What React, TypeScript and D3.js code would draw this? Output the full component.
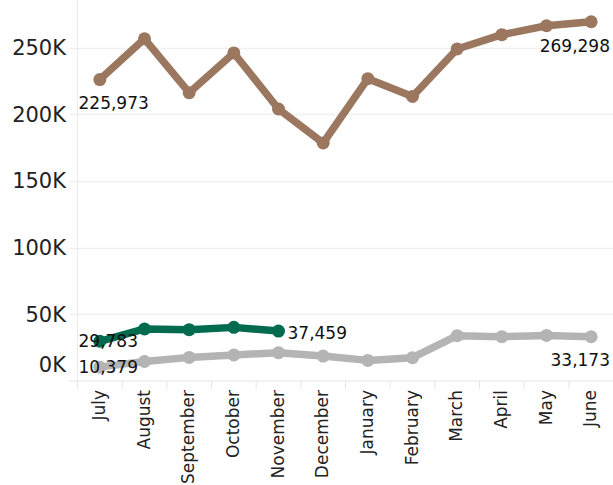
import React, { useEffect, useRef } from 'react';
import * as d3 from 'd3';

const months = ['July', 'August', 'September', 'October', 'November', 'December', 'January', 'February', 'March', 'April', 'May', 'June'];
const brownValues = [225973, 256500, 216100, 245900, 203900, 178400, 226600, 213300, 248900, 259600, 266300, 269298];
const greenValues = [29783, 39000, 38450, 40200, 37459];
const grayValues = [10379, 14700, 17700, 19500, 21200, 18700, 15450, 17500, 34000, 33200, 34200, 33173];
const yTicks = [0, 50000, 100000, 150000, 200000, 250000];

const W = 613;
const H = 485;

const App: React.FC = () => {
  const svgRef = useRef<SVGSVGElement>(null);

  useEffect(() => {
    if (!svgRef.current) return;
    const svg = d3.select(svgRef.current);
    svg.selectAll('*').remove();

    const left = 77.5;
    const right = 613.5;
    const top = 0;
    const bottom = 381;
    const font = 'DejaVu Sans, sans-serif';
    const fmt = d3.format(',');

    const x = d3.scaleBand<string>().domain(months).range([left, right]).padding(0);
    const y = d3.scaleLinear().domain([0, 50000]).range([bottom, bottom - 66.7]);
    const cx = (m: string) => x(m)! + x.bandwidth() / 2;

    // grid lines
    svg.append('g')
      .selectAll('line')
      .data(yTicks.filter(t => t > 0))
      .enter()
      .append('line')
      .attr('x1', 70)
      .attr('x2', W)
      .attr('y1', d => Math.round(y(d)) + 0.5)
      .attr('y2', d => Math.round(y(d)) + 0.5)
      .attr('stroke', '#f0f0f0')
      .attr('stroke-width', 1.5);

    // axis lines
    svg.append('line')
      .attr('x1', left).attr('x2', left)
      .attr('y1', top).attr('y2', bottom)
      .attr('stroke', '#ececec').attr('stroke-width', 1.2);
    svg.append('line')
      .attr('x1', 69).attr('x2', W)
      .attr('y1', bottom).attr('y2', bottom)
      .attr('stroke', '#e6e6e6').attr('stroke-width', 1.2);

    // x band separators
    svg.append('g')
      .selectAll('line')
      .data(months)
      .enter()
      .append('line')
      .attr('x1', d => x(d)!)
      .attr('x2', d => x(d)!)
      .attr('y1', bottom)
      .attr('y2', bottom + 8)
      .attr('stroke', '#e6e6e6');

    // y labels
    svg.append('g')
      .selectAll('text')
      .data(yTicks)
      .enter()
      .append('text')
      .attr('x', 66)
      .attr('y', d => (d === 0 ? y(d) - 15 : y(d) + 1.5))
      .attr('text-anchor', 'end')
      .attr('dominant-baseline', 'middle')
      .attr('font-family', font)
      .attr('font-size', 21)
      .attr('fill', '#222')
      .text(d => `${d / 1000}K`);

    // x labels
    svg.append('g')
      .selectAll('text')
      .data(months)
      .enter()
      .append('text')
      .attr('transform', d => `translate(${cx(d)},390) rotate(-90)`)
      .attr('text-anchor', 'end')
      .attr('dominant-baseline', 'middle')
      .attr('font-family', font)
      .attr('font-size', 17)
      .attr('fill', '#222')
      .text(d => d);

    const series = [
      { values: grayValues, color: '#b4b4b4' },
      { values: brownValues, color: '#9c7760' },
      { values: greenValues, color: '#006b4f' },
    ];

    const line = d3.line<number>()
      .x((_, i) => cx(months[i]))
      .y(d => y(d));

    series.forEach(s => {
      svg.append('path')
        .datum(s.values)
        .attr('d', line)
        .attr('fill', 'none')
        .attr('stroke', s.color)
        .attr('stroke-width', 7.5)
        .attr('stroke-linejoin', 'round');
      svg.append('g')
        .selectAll('circle')
        .data(s.values)
        .enter()
        .append('circle')
        .attr('cx', (_, i) => cx(months[i]))
        .attr('cy', d => y(d))
        .attr('r', 6.5)
        .attr('fill', s.color);
    });

    // value labels at ends
    const label = (tx: number, ty: number, anchor: string, v: number) =>
      svg.append('text')
        .attr('x', tx)
        .attr('y', ty)
        .attr('text-anchor', anchor)
        .attr('font-family', font)
        .attr('font-size', 17)
        .attr('fill', '#111')
        .text(fmt(v));

    const first = left + 1;
    const last = W - 3;
    label(first, y(brownValues[0]) + 29, 'start', brownValues[0]);
    label(last, y(brownValues[11]) + 30, 'end', brownValues[11]);
    label(first, y(greenValues[0]) + 6, 'start', greenValues[0]);
    label(cx(months[greenValues.length - 1]) + 9, y(greenValues[greenValues.length - 1]) + 8, 'start', greenValues[greenValues.length - 1]);
    label(first, y(grayValues[0]) + 6, 'start', grayValues[0]);
    label(last, y(grayValues[11]) + 29, 'end', grayValues[11]);
  }, []);

  return (
    <div style={{ position: 'absolute', left: 0, top: 0, background: '#fff' }}>
      <svg ref={svgRef} width={W} height={H} style={{ display: 'block' }} />
    </div>
  );
};

export default App;
